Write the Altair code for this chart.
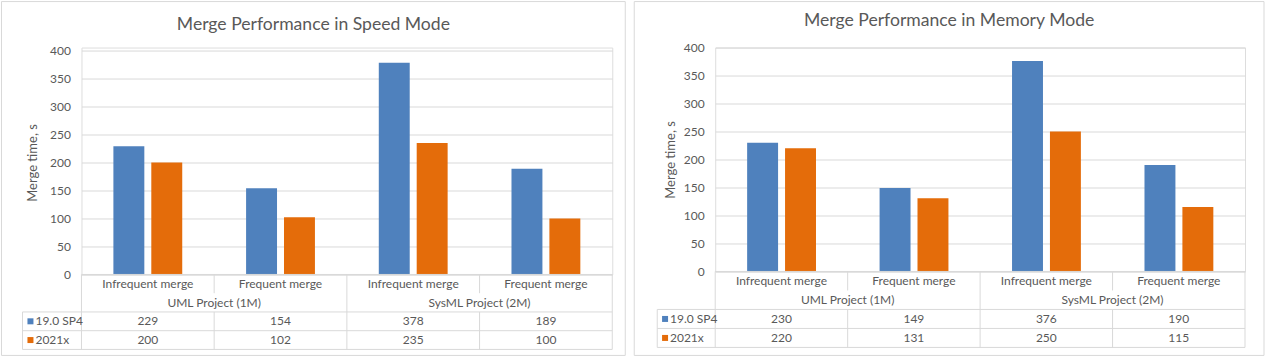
import altair as alt
import pandas as pd

# ---------------- data ----------------
categories = ["Infrequent merge", "Frequent merge", "Infrequent merge", "Frequent merge"]
groups = ["UML Project (1M)", "SysML Project (2M)"]
series = ["19.0 SP4", "2021x"]
colors = ["#4F81BD", "#E46C0A"]
speed_v19 = [229, 154, 378, 189]
speed_v2021 = [200, 102, 235, 100]
memory_v19 = [230, 149, 376, 190]
memory_v2021 = [220, 131, 250, 115]
y_ticks = [0, 50, 100, 150, 200, 250, 300, 350, 400]

FONT = "Lato"
TEXT = "#595959"
LINE = "#D9D9D9"


def panel(title, v1, v2, g):
    W, H, L, TH, t = g["w"], g["h"], g["legend_w"], g["table_h"], g["top"]
    slots = list(range(len(categories)))

    bars = pd.DataFrame({
        "slot": slots * 2,
        "series": [series[0]] * len(slots) + [series[1]] * len(slots),
        "value": v1 + v2,
    })

    # table scales (column units / row units)
    xs = alt.Scale(domain=[-1, 0, len(slots)], range=[-L, 0, W], zero=False, nice=False)
    ys = alt.Scale(domain=[0, 4], range=[t + H, t + H + TH], zero=False, nice=False)

    cells = []
    for i, c in enumerate(categories):
        cells.append({"cx": i + 0.5, "cy": 0.5, "t": c})
    for j, gname in enumerate(groups):
        cells.append({"cx": 2 * j + 1, "cy": 1.5, "t": gname})
    for i in slots:
        cells.append({"cx": i + 0.5, "cy": 2.5, "t": str(v1[i])})
        cells.append({"cx": i + 0.5, "cy": 3.5, "t": str(v2[i])})
    cells = pd.DataFrame(cells)

    legend = pd.DataFrame({
        "series": series,
        "cy": [2.5, 3.5],
        "sx": [-0.865, -0.865],
        "tx": [-0.78, -0.78],
    })

    hlines = pd.DataFrame({"x": [0, -1, -1, -1], "x2": [4, 4, 4, 4], "y": [0, 2, 3, 4]})
    vlines = pd.DataFrame({
        "x": [-1, 0, 2, 4, 1, 1, 3, 3],
        "y": [2, 0, 0, 0, 0, 2, 0, 2],
        "y2": [4, 4, 4, 4, 1, 4, 1, 4],
    })

    one = pd.DataFrame({"title": [title]})

    frame = alt.Chart(one).mark_rect(
        fill="white", fillOpacity=0, stroke=LINE, strokeWidth=1
    ).encode(
        x=alt.value(g["fx1"]), x2=alt.value(g["fx2"]),
        y=alt.value(g["fy1"]), y2=alt.value(g["fy2"]),
    )

    title_layer = alt.Chart(one).mark_text(
        font=FONT, fontSize=17.6, color=TEXT, align="center", baseline="alphabetic"
    ).encode(
        x=alt.value(g["tx"]), y=alt.value(g["ty"]), text="title:N",
    )

    bar_layer = alt.Chart(bars).mark_bar().encode(
        x=alt.X("slot:N", scale=alt.Scale(paddingInner=0, paddingOuter=0), axis=None),
        xOffset=alt.XOffset("series:N", sort=series,
                            scale=alt.Scale(paddingInner=0.184, paddingOuter=0.842)),
        y=alt.Y("value:Q", scale=alt.Scale(domain=[0, 400], range=[t + H, t], nice=False),
                axis=alt.Axis(values=y_ticks, title="Merge time, s", grid=True,
                              gridColor=LINE, gridWidth=1, domain=False, ticks=False,
                              labelPadding=11, labelFont=FONT, labelFontSize=12,
                              labelColor=TEXT, titleFont=FONT, titleFontSize=13,
                              titleFontWeight="normal", titleColor=TEXT,
                              titlePadding=g["tpad"])),
        color=alt.Color("series:N", scale=alt.Scale(domain=series, range=colors), legend=None),
    )

    h_layer = alt.Chart(hlines).mark_rule(color=LINE, strokeWidth=1).encode(
        x=alt.X("x:Q", scale=xs, axis=None), x2="x2:Q",
        y=alt.Y("y:Q", scale=ys, axis=None),
    )
    v_layer = alt.Chart(vlines).mark_rule(color=LINE, strokeWidth=1).encode(
        x=alt.X("x:Q", scale=xs, axis=None),
        y=alt.Y("y:Q", scale=ys, axis=None), y2="y2:Q",
    )
    text_layer = alt.Chart(cells).mark_text(
        font=FONT, fontSize=12, color=TEXT, align="center", baseline="middle"
    ).encode(
        x=alt.X("cx:Q", scale=xs, axis=None),
        y=alt.Y("cy:Q", scale=ys, axis=None),
        text="t:N",
    )
    sq_layer = alt.Chart(legend).mark_point(shape="square", filled=True, size=36, opacity=1).encode(
        x=alt.X("sx:Q", scale=xs, axis=None),
        y=alt.Y("cy:Q", scale=ys, axis=None),
        color=alt.Color("series:N", scale=alt.Scale(domain=series, range=colors), legend=None),
    )
    lt_layer = alt.Chart(legend).mark_text(
        font=FONT, fontSize=12, color=TEXT, align="left", baseline="middle"
    ).encode(
        x=alt.X("tx:Q", scale=xs, axis=None),
        y=alt.Y("cy:Q", scale=ys, axis=None),
        text="series:N",
    )

    return alt.layer(
        frame, title_layer, bar_layer, h_layer, v_layer, text_layer, sq_layer, lt_layer
    ).resolve_scale(x="independent", y="independent").properties(
        width=W, height=H + t,
    )


# plot origins are shared by both panels (y = 47 px); the left panel's plot
# starts 3 px lower inside its own area
left = panel("Merge Performance in Speed Mode", speed_v19, speed_v2021,
             {"w": 531, "h": 224, "legend_w": 59, "table_h": 75, "tpad": 10, "top": 3,
              "fx1": -80, "fx2": 544, "fy1": -46, "fy2": 308,
              "tx": 232, "ty": -17.5})
right = panel("Merge Performance in Memory Mode", memory_v19, memory_v2021,
              {"w": 530, "h": 224, "legend_w": 58, "table_h": 76, "tpad": 6, "top": 0,
               "fx1": -81, "fx2": 549, "fy1": -46, "fy2": 308,
               "tx": 234, "ty": -22})

chart = alt.hconcat(left, right, spacing=7).properties(
    padding={"left": 0.5, "top": 0.5, "right": 0, "bottom": 0}
).configure_view(strokeWidth=0).configure(font=FONT)

chart.save("out.html", embed_options={"renderer": "svg", "actions": False})
